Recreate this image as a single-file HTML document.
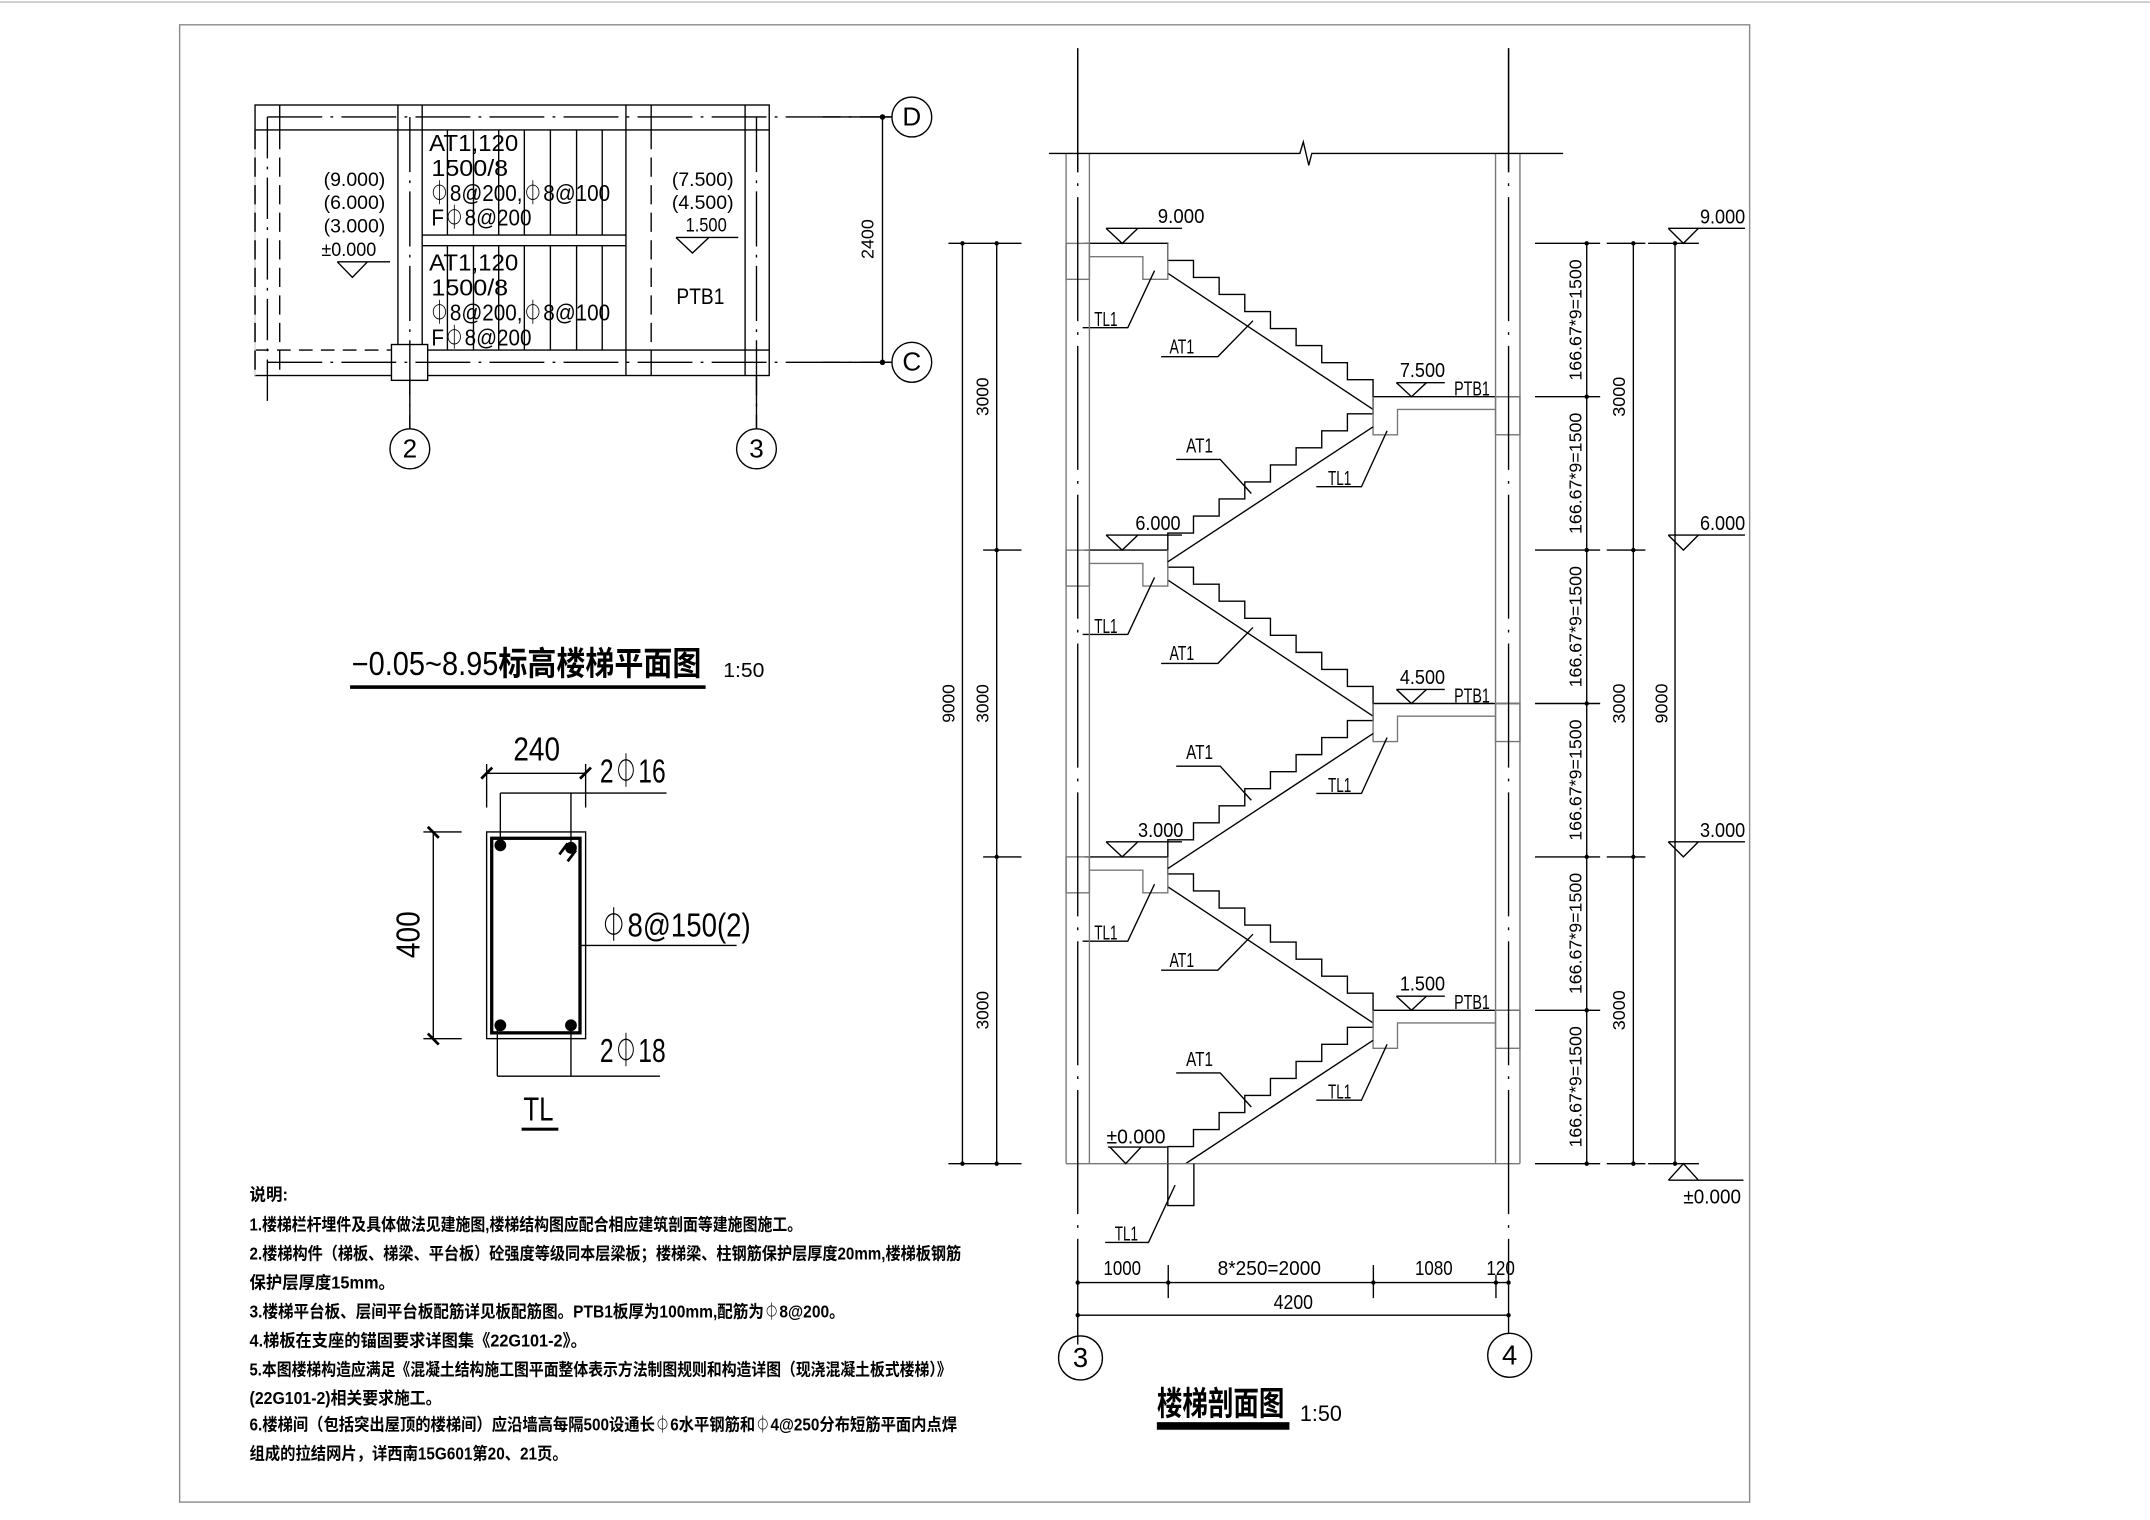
<!DOCTYPE html>
<html><head><meta charset="utf-8"><style>
html,body{margin:0;padding:0;background:#fff}
svg{display:block}
text{font-family:"Liberation Sans","Noto Sans CJK SC",sans-serif;fill:#000}
.cn{font-family:"Liberation Sans","Noto Sans CJK SC",sans-serif;font-weight:bold}
</style></head><body>
<svg width="2150" height="1520" viewBox="0 0 1568 1103" preserveAspectRatio="none" xmlns="http://www.w3.org/2000/svg">
<rect x="0" y="0" width="1568" height="1103" fill="#fff"/>
<line x1="0" y1="1.5" x2="1568" y2="1.5" stroke="#bbb" stroke-width="1"/>
<rect x="131" y="18" width="1145" height="1072" fill="none" stroke="#888" stroke-width="1"/>

<!-- ================= PLAN ================= -->
<g stroke="#000" stroke-width="1" fill="none">
<rect x="186" y="76.2" width="375" height="196.3"/>
<line x1="186" y1="94.3" x2="561" y2="94.3"/>
<line x1="307.9" y1="254" x2="561" y2="254"/>
<line x1="186" y1="254" x2="285" y2="254" stroke-dasharray="10 6"/>
<line x1="204" y1="76.2" x2="204" y2="94.3"/>
<line x1="204" y1="94.3" x2="204" y2="272.5" stroke-dasharray="14 6"/>
<line x1="186" y1="94.3" x2="186" y2="272.5" stroke="#fff"/>
<line x1="186" y1="94.3" x2="186" y2="272.5" stroke-dasharray="14 6"/>
<line x1="290.2" y1="76.2" x2="290.2" y2="250"/>
<line x1="307.9" y1="76.2" x2="307.9" y2="250"/>
<line x1="456.5" y1="76.2" x2="456.5" y2="272.5"/>
<line x1="474.9" y1="76.2" x2="474.9" y2="94.3"/>
<line x1="474.9" y1="94.3" x2="474.9" y2="254" stroke-dasharray="14 6"/>
<line x1="474.9" y1="254" x2="474.9" y2="272.5"/>
<line x1="543.4" y1="76.2" x2="543.4" y2="272.5"/>
<line x1="307.9" y1="170.6" x2="456.5" y2="170.6"/>
<line x1="307.9" y1="178.3" x2="456.5" y2="178.3"/>
<g>
<line x1="326.3" y1="94.3" x2="326.3" y2="170.6"/><line x1="326.3" y1="178.3" x2="326.3" y2="254"/>
<line x1="345.3" y1="94.3" x2="345.3" y2="170.6"/><line x1="345.3" y1="178.3" x2="345.3" y2="254"/>
<line x1="363.7" y1="94.3" x2="363.7" y2="170.6"/><line x1="363.7" y1="178.3" x2="363.7" y2="254"/>
<line x1="382.4" y1="94.3" x2="382.4" y2="170.6"/><line x1="382.4" y1="178.3" x2="382.4" y2="254"/>
<line x1="401.4" y1="94.3" x2="401.4" y2="170.6"/><line x1="401.4" y1="178.3" x2="401.4" y2="254"/>
<line x1="420.5" y1="94.3" x2="420.5" y2="170.6"/><line x1="420.5" y1="178.3" x2="420.5" y2="254"/>
<line x1="439.2" y1="94.3" x2="439.2" y2="170.6"/><line x1="439.2" y1="178.3" x2="439.2" y2="254"/>
</g>
<rect x="285.5" y="250" width="26.4" height="26" fill="#fff"/>
<!-- centerlines -->
<line x1="195" y1="84.9" x2="650.5" y2="84.9" stroke-dasharray="40 6 2 6"/>
<line x1="195" y1="262.9" x2="650.5" y2="262.9" stroke-dasharray="40 6 2 6"/>
<line x1="195" y1="84.9" x2="195" y2="294" stroke-dasharray="30 6 2 6"/>
<line x1="298.9" y1="84.9" x2="298.9" y2="311.2" stroke-dasharray="40 6 2 6"/>
<line x1="551.7" y1="84.9" x2="551.7" y2="311.2" stroke-dasharray="40 6 2 6"/>
<line x1="298.9" y1="276" x2="298.9" y2="311.2"/>
<line x1="551.7" y1="272.5" x2="551.7" y2="311.2"/>
<line x1="600" y1="84.9" x2="650.5" y2="84.9"/>
<line x1="600" y1="262.9" x2="650.5" y2="262.9"/>
<!-- 2400 dim -->
<line x1="643.6" y1="84.9" x2="643.6" y2="262.9"/>
<circle cx="643.6" cy="84.9" r="1.5" fill="#000"/><circle cx="643.6" cy="262.9" r="1.5" fill="#000"/>
<!-- axis circles -->
<circle cx="665" cy="84.9" r="14.5"/>
<circle cx="665" cy="262.9" r="14.5"/>
<circle cx="298.9" cy="325.7" r="14.5"/>
<circle cx="551.7" cy="325.7" r="14.5"/>
<!-- elevation marks -->
<polyline points="246,190 284.5,190"/>
<polyline points="246,190 257,201.3 268,190"/>
<polyline points="493,172.3 538.4,172.3"/>
<polyline points="493,172.3 505,183.6 517,172.3"/>
</g>
<g font-size="17">
<text x="665" y="91" text-anchor="middle" font-size="19">D</text>
<text x="665" y="269" text-anchor="middle" font-size="19">C</text>
<text x="298.9" y="332" text-anchor="middle" font-size="19">2</text>
<text x="551.7" y="332" text-anchor="middle" font-size="19">3</text>
<text transform="translate(637,173.5) rotate(-90)" text-anchor="middle" font-size="13">2400</text>
<text x="313" y="109.5" textLength="65" lengthAdjust="spacingAndGlyphs">AT1,120</text>
<text x="314.6" y="127.6" textLength="56" lengthAdjust="spacingAndGlyphs">1500/8</text>
<text x="313" y="145.7" textLength="132" lengthAdjust="spacingAndGlyphs">⏀8@200,⏀8@100</text>
<text x="314.6" y="163.8" textLength="73" lengthAdjust="spacingAndGlyphs">F⏀8@200</text>
<text x="313" y="196.4" textLength="65" lengthAdjust="spacingAndGlyphs">AT1,120</text>
<text x="314.6" y="214.6" textLength="56" lengthAdjust="spacingAndGlyphs">1500/8</text>
<text x="313" y="232.7" textLength="132" lengthAdjust="spacingAndGlyphs">⏀8@200,⏀8@100</text>
<text x="314.6" y="250.8" textLength="73" lengthAdjust="spacingAndGlyphs">F⏀8@200</text>
</g>
<g font-size="14">
<text x="236" y="134.9" textLength="45" lengthAdjust="spacingAndGlyphs">(9.000)</text>
<text x="236" y="151.8" textLength="45" lengthAdjust="spacingAndGlyphs">(6.000)</text>
<text x="236" y="168.7" textLength="45" lengthAdjust="spacingAndGlyphs">(3.000)</text>
<text x="234.4" y="185.6" textLength="40" lengthAdjust="spacingAndGlyphs">±0.000</text>
<text x="490" y="134.9" textLength="45" lengthAdjust="spacingAndGlyphs">(7.500)</text>
<text x="490" y="151.8" textLength="45" lengthAdjust="spacingAndGlyphs">(4.500)</text>
<text x="500" y="168" textLength="30" lengthAdjust="spacingAndGlyphs">1.500</text>
<text x="493.3" y="220.6" font-size="16" textLength="35" lengthAdjust="spacingAndGlyphs">PTB1</text>
</g>

<!-- plan title -->
<text x="256.5" y="490" font-size="24" textLength="255" lengthAdjust="spacingAndGlyphs">−0.05~8.95<tspan class="cn">标高楼梯平面图</tspan></text>
<rect x="255.3" y="497.3" width="259.3" height="2.6" fill="#000"/>
<text x="527.5" y="491.2" font-size="15" textLength="30" lengthAdjust="spacingAndGlyphs">1:50</text>

<!-- ================= TL SECTION ================= -->
<g stroke="#000" fill="none" stroke-width="1">
<rect x="354.9" y="603.7" width="72.2" height="150"/>
<rect x="358.6" y="608.3" width="64.4" height="141.2" stroke-width="2.4"/>
<line x1="354.9" y1="561.2" x2="427.1" y2="561.2"/>
<line x1="354.9" y1="554.4" x2="354.9" y2="586"/>
<line x1="427.1" y1="554.4" x2="427.1" y2="586"/>
<line x1="351" y1="565" x2="359" y2="557" stroke-width="2"/>
<line x1="423" y1="565" x2="431" y2="557" stroke-width="2"/>
<line x1="364.9" y1="575.5" x2="486.1" y2="575.5"/>
<line x1="364.9" y1="575.5" x2="364.9" y2="613"/>
<line x1="416.4" y1="575.5" x2="416.4" y2="615"/>
<line x1="316" y1="603.7" x2="316" y2="753.7"/>
<line x1="308.8" y1="603.7" x2="336.7" y2="603.7"/>
<line x1="308.8" y1="753.7" x2="336.7" y2="753.7"/>
<line x1="312" y1="600" x2="320" y2="608" stroke-width="2"/>
<line x1="312" y1="750" x2="320" y2="758" stroke-width="2"/>
<line x1="423" y1="686.1" x2="537.2" y2="686.1"/>
<line x1="362.7" y1="780.9" x2="481.3" y2="780.9"/>
<line x1="362.7" y1="744" x2="362.7" y2="780.9"/>
<line x1="416.4" y1="744" x2="416.4" y2="780.9"/>
<line x1="408" y1="620" x2="414" y2="612" stroke-width="2"/>
<line x1="414" y1="625" x2="420" y2="617" stroke-width="2"/>
</g>
<g fill="#000">
<circle cx="364.9" cy="613.4" r="4.3"/><circle cx="416.4" cy="615.2" r="4.3"/>
<circle cx="364.9" cy="744" r="4.3"/><circle cx="416.4" cy="744" r="4.3"/>
</g>
<g font-size="24">
<text x="374.4" y="552" textLength="34" lengthAdjust="spacingAndGlyphs">240</text>
<text x="437.5" y="567.8" textLength="48" lengthAdjust="spacingAndGlyphs">2⏀16</text>
<text transform="translate(306,678.3) rotate(-90)" text-anchor="middle" textLength="34" lengthAdjust="spacingAndGlyphs">400</text>
<text x="437.5" y="679.5" textLength="110" lengthAdjust="spacingAndGlyphs">⏀8@150(2)</text>
<text x="437.5" y="770.7" textLength="48" lengthAdjust="spacingAndGlyphs">2⏀18</text>
<text x="381.7" y="813.2" textLength="22" lengthAdjust="spacingAndGlyphs">TL</text>
</g>
<rect x="380.4" y="818.3" width="26.8" height="2.2" fill="#000"/>

<!-- ================= SECTION ================= -->
<defs>
<g id="fset">
<path d="M791,0 H851.7 V12.37 H870.41 V24.73 H889.12 V37.10 H907.83 V49.47 H926.54 V61.83 H945.25 V74.20 H963.96 V86.57 H982.67 V98.93 H1001.38 V111.3 H1108.5" fill="none" stroke="#000"/>
<path d="M851.7,222.6 V210.23 H870.41 V197.87 H889.12 V185.5 H907.83 V173.13 H926.54 V160.77 H945.25 V148.4 H963.96 V136.03 H982.67 V123.67 H1001.38 V111.3" fill="none" stroke="#000"/>
<line x1="851.7" y1="21.7" x2="1001.4" y2="120.5" stroke="#000"/>
<path d="M794.5,9.7 H833.5 V26.1 H851.7 V0" fill="none" stroke="#777"/>
<rect x="777.5" y="0" width="17" height="26.1" fill="none" stroke="#777"/>
<path d="M1090.7,120.5 H1019.2 V138.9 H1001.4 V111.3" fill="none" stroke="#777"/>
<rect x="1090.7" y="111.3" width="17.8" height="27.6" fill="none" stroke="#777"/>
<!-- leaders -->
<polyline points="842,19.8 822.5,61.2 789.6,61.2" fill="none" stroke="#000"/>
<polyline points="913.8,56.1 888.2,82.2 846.8,82.2" fill="none" stroke="#000"/>
<polyline points="857.8,156.8 889.9,156.8 912.6,181.5" fill="none" stroke="#000"/>
<polyline points="1011.6,136 992.9,176.6 960,176.6" fill="none" stroke="#000"/>
<!-- left elevation -->
<polyline points="806.7,-10.9 862,-10.9" fill="none" stroke="#000"/>
<polyline points="806.7,-10.9 818.4,0 829.8,-10.9" fill="none" stroke="#000"/>
<!-- right elevation -->
<polyline points="1018.4,101.1 1053.7,101.1" fill="none" stroke="#000"/>
<polyline points="1018.4,101.1 1029.4,111.3 1040.3,101.1" fill="none" stroke="#000"/>
</g>
</defs>
<g stroke-width="1">
<use href="#fset" transform="translate(0,176.6)"/>
<use href="#fset" transform="translate(0,399.2)"/>
<use href="#fset" transform="translate(0,621.8)"/>
</g>
<g stroke="#000" fill="none" stroke-width="1">
<line x1="1001.4" y1="309.7" x2="851.7" y2="407.7"/>
<line x1="1001.4" y1="532.3" x2="851.7" y2="630.3"/>
<line x1="1001.4" y1="754.9" x2="864.7" y2="844.4"/>
<!-- walls -->
<g stroke="#777">
<line x1="777.5" y1="111.3" x2="777.5" y2="844.4"/>
<line x1="794.5" y1="111.3" x2="794.5" y2="844.4"/>
<line x1="1090.7" y1="111.3" x2="1090.7" y2="844.4"/>
<line x1="1108.5" y1="111.3" x2="1108.5" y2="844.4"/>
<line x1="777.5" y1="844.4" x2="1108.5" y2="844.4"/>
</g>
<line x1="786" y1="35" x2="786" y2="975.7" stroke-dasharray="90 8 2 8"/>
<line x1="1100.2" y1="35" x2="1100.2" y2="968" stroke-dasharray="90 8 2 8"/>
<line x1="786" y1="35" x2="786" y2="125"/>
<line x1="1100.2" y1="35" x2="1100.2" y2="125"/>
<path d="M765,111.3 H948 L950.5,103 L954.5,120 L956.7,111.3 H1140"/>
<!-- ground beam -->
<path d="M851.7,844.4 V874.8 H870.7 V844.4"/>
<polyline points="857,860 837.6,901.6 806,901.6"/>
<!-- ±0 left -->
<polyline points="808,832.4 851,832.4"/>
<polyline points="809.5,832.4 821,844.4 832.2,832.4"/>
<!-- bottom dims -->
<line x1="786" y1="930.7" x2="1100.2" y2="930.7"/>
<line x1="786" y1="954.4" x2="1100.2" y2="954.4"/>
<line x1="852" y1="918" x2="852" y2="942"/>
<line x1="1001.6" y1="918" x2="1001.6" y2="942"/>
<line x1="1091" y1="925" x2="1091" y2="942"/>
<circle cx="788" cy="985.4" r="16"/>
<circle cx="1101" cy="983.5" r="16"/>
<!-- left dims -->
<line x1="701.9" y1="176.6" x2="701.9" y2="844.4"/>
<line x1="726.9" y1="176.6" x2="726.9" y2="844.4"/>
<line x1="691.7" y1="176.6" x2="745" y2="176.6"/>
<line x1="717" y1="399.2" x2="745" y2="399.2"/>
<line x1="717" y1="621.8" x2="745" y2="621.8"/>
<line x1="691.7" y1="844.4" x2="745" y2="844.4"/>
<!-- right dims -->
<line x1="1157.2" y1="176.6" x2="1157.2" y2="844.4"/>
<line x1="1191.2" y1="176.6" x2="1191.2" y2="844.4"/>
<line x1="1221.6" y1="176.6" x2="1221.6" y2="844.4"/>
<line x1="1119.5" y1="176.6" x2="1167" y2="176.6"/><line x1="1119.5" y1="287.9" x2="1167" y2="287.9"/>
<line x1="1119.5" y1="399.2" x2="1167" y2="399.2"/><line x1="1119.5" y1="510.5" x2="1167" y2="510.5"/>
<line x1="1119.5" y1="621.8" x2="1167" y2="621.8"/><line x1="1119.5" y1="733.1" x2="1167" y2="733.1"/>
<line x1="1119.5" y1="844.4" x2="1167" y2="844.4"/>
<line x1="1171.8" y1="176.6" x2="1200" y2="176.6"/><line x1="1171.8" y1="399.2" x2="1200" y2="399.2"/>
<line x1="1171.8" y1="621.8" x2="1200" y2="621.8"/><line x1="1171.8" y1="844.4" x2="1200" y2="844.4"/>
<line x1="1202" y1="176.6" x2="1239" y2="176.6"/><line x1="1202" y1="844.4" x2="1239" y2="844.4"/>
<!-- right elevations -->
<polyline points="1216.7,165.7 1272.6,165.7"/><polyline points="1216.7,165.7 1227.7,176.6 1238.6,165.7"/>
<polyline points="1216.7,388.3 1272.6,388.3"/><polyline points="1216.7,388.3 1227.7,399.2 1238.6,388.3"/>
<polyline points="1216.7,610.9 1272.6,610.9"/><polyline points="1216.7,610.9 1227.7,621.8 1238.6,610.9"/>
<polyline points="1216.8,856.4 1271.5,856.4"/><polyline points="1216.8,856.4 1227.7,844.4 1238.7,856.4"/>
</g>
<g fill="#000">
<circle cx="701.9" cy="176.6" r="1.6"/><circle cx="701.9" cy="844.4" r="1.6"/>
<circle cx="726.9" cy="176.6" r="1.6"/><circle cx="726.9" cy="399.2" r="1.6"/><circle cx="726.9" cy="621.8" r="1.6"/><circle cx="726.9" cy="844.4" r="1.6"/>
<circle cx="1157.2" cy="176.6" r="1.6"/><circle cx="1157.2" cy="287.9" r="1.6"/><circle cx="1157.2" cy="399.2" r="1.6"/><circle cx="1157.2" cy="510.5" r="1.6"/><circle cx="1157.2" cy="621.8" r="1.6"/><circle cx="1157.2" cy="733.1" r="1.6"/><circle cx="1157.2" cy="844.4" r="1.6"/>
<circle cx="1191.2" cy="176.6" r="1.6"/><circle cx="1191.2" cy="399.2" r="1.6"/><circle cx="1191.2" cy="621.8" r="1.6"/><circle cx="1191.2" cy="844.4" r="1.6"/>
<circle cx="1221.6" cy="176.6" r="1.6"/><circle cx="1221.6" cy="844.4" r="1.6"/>
<circle cx="786" cy="930.7" r="1.6"/><circle cx="852" cy="930.7" r="1.6"/><circle cx="1001.6" cy="930.7" r="1.6"/><circle cx="1091" cy="930.7" r="1.6"/><circle cx="1100.2" cy="930.7" r="1.6"/>
<circle cx="786" cy="954.4" r="1.6"/><circle cx="1100.2" cy="954.4" r="1.6"/>
</g>

<g font-size="15">
<!-- left levels -->
<text x="844.4" y="162" textLength="34" lengthAdjust="spacingAndGlyphs">9.000</text>
<text x="828" y="384.7" textLength="33" lengthAdjust="spacingAndGlyphs">6.000</text>
<text x="830" y="607.3" textLength="33" lengthAdjust="spacingAndGlyphs">3.000</text>
<text x="807" y="829.7" textLength="43" lengthAdjust="spacingAndGlyphs">±0.000</text>
<!-- right landing levels -->
<text x="1020.9" y="273.6" textLength="33" lengthAdjust="spacingAndGlyphs">7.500</text>
<text x="1020.9" y="496.2" textLength="33" lengthAdjust="spacingAndGlyphs">4.500</text>
<text x="1020.9" y="718.8" textLength="33" lengthAdjust="spacingAndGlyphs">1.500</text>
<text x="1060.5" y="287" textLength="26" lengthAdjust="spacingAndGlyphs">PTB1</text>
<text x="1060.5" y="509.6" textLength="26" lengthAdjust="spacingAndGlyphs">PTB1</text>
<text x="1060.5" y="732.2" textLength="26" lengthAdjust="spacingAndGlyphs">PTB1</text>
<!-- TL1/AT1 -->
<text x="798" y="236.6" textLength="17" lengthAdjust="spacingAndGlyphs">TL1</text>
<text x="798" y="459.2" textLength="17" lengthAdjust="spacingAndGlyphs">TL1</text>
<text x="798" y="681.8" textLength="17" lengthAdjust="spacingAndGlyphs">TL1</text>
<text x="852.9" y="256.4" textLength="18" lengthAdjust="spacingAndGlyphs">AT1</text>
<text x="852.9" y="479" textLength="18" lengthAdjust="spacingAndGlyphs">AT1</text>
<text x="852.9" y="701.6" textLength="18" lengthAdjust="spacingAndGlyphs">AT1</text>
<text x="865" y="328.3" textLength="19.6" lengthAdjust="spacingAndGlyphs">AT1</text>
<text x="865" y="550.9" textLength="19.6" lengthAdjust="spacingAndGlyphs">AT1</text>
<text x="865" y="773.5" textLength="19.6" lengthAdjust="spacingAndGlyphs">AT1</text>
<text x="968.5" y="352" textLength="17" lengthAdjust="spacingAndGlyphs">TL1</text>
<text x="968.5" y="574.6" textLength="17" lengthAdjust="spacingAndGlyphs">TL1</text>
<text x="968.5" y="797.2" textLength="17" lengthAdjust="spacingAndGlyphs">TL1</text>
<text x="813" y="900" textLength="17" lengthAdjust="spacingAndGlyphs">TL1</text>
<!-- right elevations -->
<text x="1239.8" y="162.1" textLength="33" lengthAdjust="spacingAndGlyphs">9.000</text>
<text x="1239.8" y="384.7" textLength="33" lengthAdjust="spacingAndGlyphs">6.000</text>
<text x="1239.8" y="607.3" textLength="33" lengthAdjust="spacingAndGlyphs">3.000</text>
<text x="1227.7" y="873.3" textLength="42" lengthAdjust="spacingAndGlyphs">±0.000</text>
<!-- bottom dims -->
<text x="804.8" y="925.3" textLength="27.4" lengthAdjust="spacingAndGlyphs">1000</text>
<text x="888" y="925.3" textLength="75.4" lengthAdjust="spacingAndGlyphs">8*250=2000</text>
<text x="1032" y="925.3" textLength="27.4" lengthAdjust="spacingAndGlyphs">1080</text>
<text x="1084" y="925.3" textLength="20.8" lengthAdjust="spacingAndGlyphs">120</text>
<text x="928.9" y="950" textLength="28.7" lengthAdjust="spacingAndGlyphs">4200</text>
<text x="788" y="992" text-anchor="middle" font-size="20">3</text>
<text x="1101" y="990" text-anchor="middle" font-size="20">4</text>
</g>
<g font-size="13">
<text transform="translate(721,287.9) rotate(-90)" text-anchor="middle" textLength="28" lengthAdjust="spacingAndGlyphs">3000</text>
<text transform="translate(721,510.5) rotate(-90)" text-anchor="middle" textLength="28" lengthAdjust="spacingAndGlyphs">3000</text>
<text transform="translate(721,733.1) rotate(-90)" text-anchor="middle" textLength="28" lengthAdjust="spacingAndGlyphs">3000</text>
<text transform="translate(696,510.5) rotate(-90)" text-anchor="middle" textLength="28" lengthAdjust="spacingAndGlyphs">9000</text>
<text transform="translate(1153.5,232.2) rotate(-90)" text-anchor="middle" textLength="88" lengthAdjust="spacingAndGlyphs">166.67*9=1500</text>
<text transform="translate(1153.5,343.5) rotate(-90)" text-anchor="middle" textLength="88" lengthAdjust="spacingAndGlyphs">166.67*9=1500</text>
<text transform="translate(1153.5,454.8) rotate(-90)" text-anchor="middle" textLength="88" lengthAdjust="spacingAndGlyphs">166.67*9=1500</text>
<text transform="translate(1153.5,566.1) rotate(-90)" text-anchor="middle" textLength="88" lengthAdjust="spacingAndGlyphs">166.67*9=1500</text>
<text transform="translate(1153.5,677.4) rotate(-90)" text-anchor="middle" textLength="88" lengthAdjust="spacingAndGlyphs">166.67*9=1500</text>
<text transform="translate(1153.5,788.7) rotate(-90)" text-anchor="middle" textLength="88" lengthAdjust="spacingAndGlyphs">166.67*9=1500</text>
<text transform="translate(1185,287.9) rotate(-90)" text-anchor="middle" textLength="29" lengthAdjust="spacingAndGlyphs">3000</text>
<text transform="translate(1185,510.5) rotate(-90)" text-anchor="middle" textLength="29" lengthAdjust="spacingAndGlyphs">3000</text>
<text transform="translate(1185,733.1) rotate(-90)" text-anchor="middle" textLength="29" lengthAdjust="spacingAndGlyphs">3000</text>
<text transform="translate(1216,510.5) rotate(-90)" text-anchor="middle" textLength="29" lengthAdjust="spacingAndGlyphs">9000</text>
</g>

<!-- section title -->
<text x="843.7" y="1026.7" class="cn" font-size="24" textLength="93" lengthAdjust="spacingAndGlyphs">楼梯剖面图</text>
<rect x="843.7" y="1032" width="96.7" height="5.5" fill="#000"/>
<text x="948" y="1031" font-size="16" textLength="30.6" lengthAdjust="spacingAndGlyphs">1:50</text>

<!-- notes -->
<g class="cn" font-size="12.5">
<text x="182" y="871" textLength="28" lengthAdjust="spacingAndGlyphs">说明:</text>
<text x="182" y="893" textLength="403" lengthAdjust="spacingAndGlyphs">1.楼梯栏杆埋件及具体做法见建施图,楼梯结构图应配合相应建筑剖面等建施图施工。</text>
<text x="182" y="914" textLength="519" lengthAdjust="spacingAndGlyphs">2.楼梯构件（梯板、梯梁、平台板）砼强度等级同本层梁板；楼梯梁、柱钢筋保护层厚度20mm,楼梯板钢筋</text>
<text x="182" y="935" textLength="106" lengthAdjust="spacingAndGlyphs">保护层厚度15mm。</text>
<text x="182" y="956" textLength="434" lengthAdjust="spacingAndGlyphs">3.楼梯平台板、层间平台板配筋详见板配筋图。PTB1板厚为100mm,配筋为⏀8@200。</text>
<text x="182" y="977" textLength="246" lengthAdjust="spacingAndGlyphs">4.梯板在支座的锚固要求详图集《22G101-2》。</text>
<text x="182" y="998" textLength="512" lengthAdjust="spacingAndGlyphs">5.本图楼梯构造应满足《混凝土结构施工图平面整体表示方法制图规则和构造详图（现浇混凝土板式楼梯）》</text>
<text x="182" y="1019" textLength="140" lengthAdjust="spacingAndGlyphs">(22G101-2)相关要求施工。</text>
<text x="182" y="1038" textLength="516" lengthAdjust="spacingAndGlyphs">6.楼梯间（包括突出屋顶的楼梯间）应沿墙高每隔500设通长⏀6水平钢筋和⏀4@250分布短筋平面内点焊</text>
<text x="182" y="1059" textLength="232" lengthAdjust="spacingAndGlyphs">组成的拉结网片，详西南15G601第20、21页。</text>
</g>
</svg>
</body></html>
